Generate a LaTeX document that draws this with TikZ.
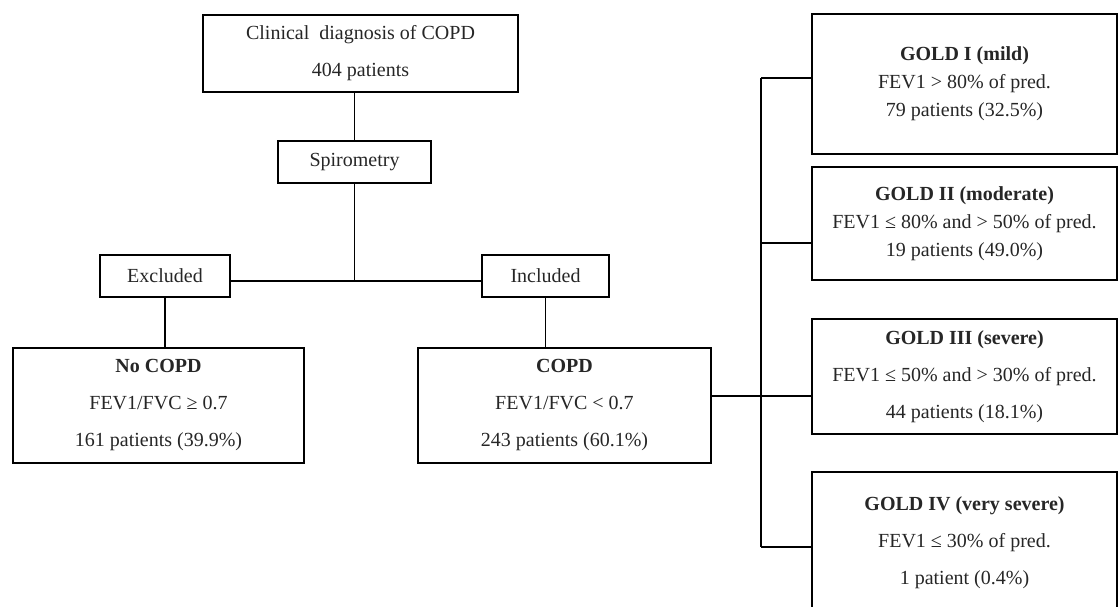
\documentclass[tikz,border=0pt]{standalone}
\usepackage{fontspec}
\setmainfont{Liberation Serif}
\begin{document}
\begin{tikzpicture}[x=1pt,y=-1pt,
  box/.style={draw=black, line width=1.6pt, inner sep=0pt, align=center,
    text=black!85, font=\fontsize{20}{37}\selectfont},
  tightbox/.style={box, font=\fontsize{20}{28}\selectfont},
  link/.style={draw=black, line width=1.5pt}]
\useasboundingbox (0,0) rectangle (1119,607);
\clip (0,0) rectangle (1119,607);
% left / middle part
\node[box, minimum width=315pt, minimum height=77pt] (top) at (360.5,53.5)
  {Clinical\ \ diagnosis of COPD\\404 patients};
\node[box, minimum width=153pt, minimum height=42pt] (spiro) at (354.5,162) {Spirometry};
\node[box, minimum width=130pt, minimum height=42pt] (excl) at (165,276) {Excluded};
\node[box, minimum width=127pt, minimum height=42pt] (incl) at (545.5,276) {Included};
\node[box, minimum width=291pt, minimum height=115pt] (nocopd) at (158.5,405.5)
  {\textbf{No COPD}\\FEV1/FVC ≥ 0.7\\161 patients (39.9\%)};
\node[box, minimum width=293pt, minimum height=115pt] (copd) at (564.5,405.5)
  {\textbf{COPD}\\FEV1/FVC < 0.7\\243 patients (60.1\%)};
% GOLD boxes
\node[tightbox, minimum width=305pt, minimum height=140pt] (g1) at (964.5,84)
  {\textbf{GOLD I (mild)}\\FEV1 > 80\% of pred.\\79 patients (32.5\%)};
\node[tightbox, minimum width=305pt, minimum height=113pt] (g2) at (964.5,223.5)
  {\textbf{GOLD II (moderate)}\\FEV1 ≤ 80\% and > 50\% of pred.\\19 patients (49.0\%)};
\node[box, minimum width=305pt, minimum height=115pt] (g3) at (964.5,376.5)
  {\textbf{GOLD III (severe)}\\FEV1 ≤ 50\% and > 30\% of pred.\\44 patients (18.1\%)};
\node[box, minimum width=305pt, minimum height=142pt] (g4) at (964.5,543)
  {\textbf{GOLD IV (very severe)}\\FEV1 ≤ 30\% of pred.\\1 patient (0.4\%)};
% junction coordinates
\coordinate (j) at (354.5,281);
\coordinate (b1) at (761,78);
\coordinate (b2) at (761,243);
\coordinate (b3) at (761,396);
\coordinate (b4) at (761,547);
% connectors
\draw[link] (top.south -| spiro.north) -- (spiro.north);
\draw[link] (spiro.south) -- (j);
\draw[link] (excl.east |- j) -- (incl.west |- j);
\draw[link] (excl.south) -- (excl.south |- nocopd.north);
\draw[link] (incl.south) -- (incl.south |- copd.north);
\draw[link] (copd.east |- b3) -- (b3 -| g3.west);
\draw[link] (b1) -- (b4);
\draw[link] (b1) -- (b1 -| g1.west);
\draw[link] (b2) -- (b2 -| g2.west);
\draw[link] (b4) -- (b4 -| g4.west);
\end{tikzpicture}
\end{document}
